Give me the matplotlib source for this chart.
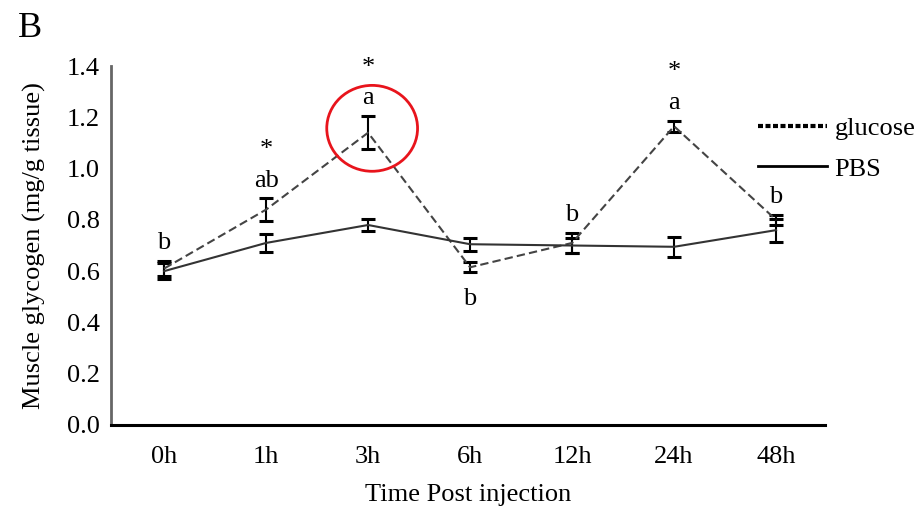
import matplotlib
matplotlib.use("Agg")
import matplotlib.pyplot as plt
from matplotlib.lines import Line2D
from matplotlib.patches import Ellipse

plt.rcParams['font.family'] = ['Liberation Serif', 'DejaVu Serif']

# === DATA ===
times = ['0h', '1h', '3h', '6h', '12h', '24h', '48h']
glucose_mean = [0.61, 0.84, 1.14, 0.615, 0.71, 1.165, 0.80]
glucose_err = [0.03, 0.045, 0.065, 0.02, 0.04, 0.022, 0.02]
pbs_mean = [0.60, 0.71, 0.78, 0.705, 0.70, 0.695, 0.76]
pbs_err = [0.03, 0.035, 0.025, 0.025, 0.03, 0.04, 0.045]
letters = ['b', 'ab', 'a', 'b', 'b', 'a', 'b']
letter_below = [False, False, False, True, False, False, False]
significant = [False, True, True, False, False, True, False]
highlight = 2  # index of the circled point (3h)

x = list(range(len(times)))
FS = 19

fig = plt.figure(figsize=(9.19, 5.11), dpi=100)
ax = fig.add_axes([0.1208, 0.1683, 0.777, 0.7025])

ax.errorbar(x, glucose_mean, yerr=glucose_err, color='#444444', ls=(0, (4, 2)),
            lw=1.5, ecolor='black', elinewidth=1.5, capsize=5, capthick=2.2, zorder=3)
ax.errorbar(x, pbs_mean, yerr=pbs_err, color='#333333', ls='-',
            lw=1.5, ecolor='black', elinewidth=1.5, capsize=5, capthick=2.2, zorder=3)

# letters and significance stars
for i in x:
    if letter_below[i]:
        ax.text(i, glucose_mean[i] - glucose_err[i] - 0.06, letters[i],
                ha='center', va='top', fontsize=FS)
    else:
        ly = glucose_mean[i] + glucose_err[i] + 0.045
        ax.text(i, ly, letters[i], ha='center', va='baseline', fontsize=FS)
        if significant[i]:
            ax.text(i, ly + 0.12, '*', ha='center', va='baseline', fontsize=FS,
                    clip_on=False)

# red highlight circle round the 3h glucose point
ax.add_patch(Ellipse((highlight + 0.04, glucose_mean[highlight] + 0.017), 0.89, 0.335,
                     fill=False, edgecolor='#e8141c', lw=2, zorder=4))

ax.set_xlim(-0.52, 6.48)
ax.set_ylim(0, 1.4)
ax.set_xticks(x)
ax.set_xticklabels(times)
ax.set_yticks([0.0, 0.2, 0.4, 0.6, 0.8, 1.0, 1.2, 1.4])
ax.set_yticklabels(['0.0', '0.2', '0.4', '0.6', '0.8', '1.0', '1.2', '1.4'])
ax.tick_params(axis='x', length=0, pad=15, labelsize=FS)
ax.tick_params(axis='y', length=0, pad=8, labelsize=FS)

for s in ['top', 'right']:
    ax.spines[s].set_visible(False)
ax.spines['left'].set_color('#666666')
ax.spines['left'].set_linewidth(2)
ax.spines['bottom'].set_color('black')
ax.spines['bottom'].set_linewidth(2.2)

ax.set_ylabel('Muscle glycogen (mg/g tissue)', fontsize=FS, labelpad=15)
ax.set_xlabel('Time Post injection', fontsize=FS, labelpad=12)

handles = [Line2D([], [], color='black', ls=(0, (1.2, 0.6)), lw=3),
           Line2D([], [], color='black', ls='-', lw=2)]
fig.legend(handles, ['glucose', 'PBS'], loc='upper left',
           bbox_to_anchor=(0.825, 0.772), frameon=False, fontsize=FS,
           handlelength=2.6, handletextpad=0.3, labelspacing=0.65,
           borderpad=0, borderaxespad=0)

fig.text(0.02, 0.945, 'B', fontsize=26, va='center', ha='left')

fig.savefig('out.png', dpi=100)
